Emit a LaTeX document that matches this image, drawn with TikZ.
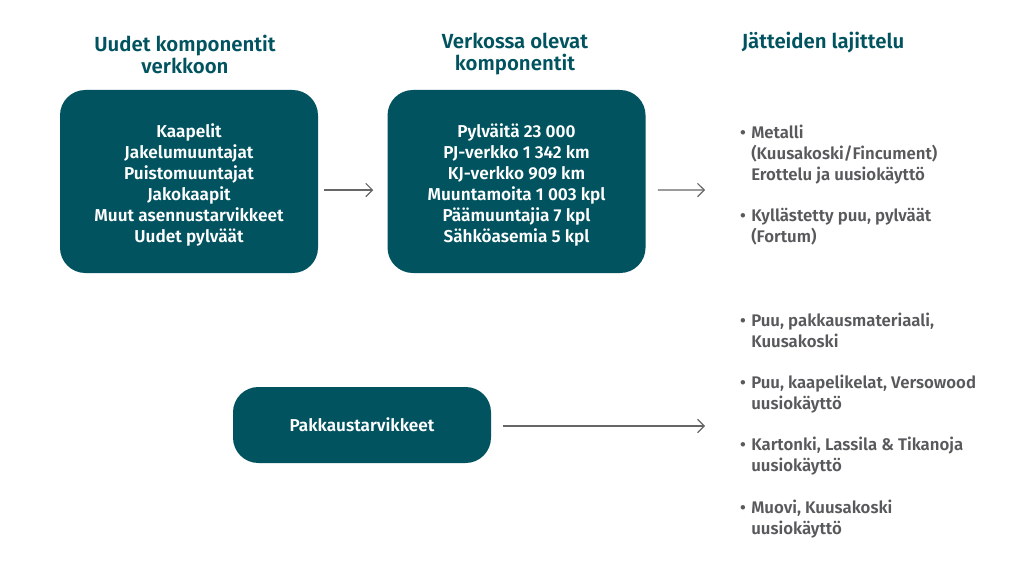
\documentclass[tikz,border=0pt]{standalone}
\usepackage{fontspec}
\setmainfont{Fira Sans SemiBold}
\usetikzlibrary{arrows.meta,positioning}
\definecolor{colorBox}{HTML}{00535F}
\definecolor{colorHead}{HTML}{00535F}
\definecolor{colorText}{HTML}{58595B}
\definecolor{colorArrow}{HTML}{666666}

\begin{document}
\begin{tikzpicture}[x=0.75pt,y=-0.75pt,node distance=51.75pt,>={Straight Barb[length=5pt,width=10pt]},every node/.append style={align=center},box/.style={fill=colorBox, text=white, rounded corners=19pt, minimum width=193.5pt, inner sep=0pt, font=\fontsize{12.9}{15.75}\selectfont},head/.style={text=colorHead, inner sep=0pt, font=\fontsize{15.3}{16.5}\selectfont},item/.style={text=colorText, align=left, anchor=north west, inner sep=0pt, font=\fontsize{12.6}{15.75}\selectfont},arr/.style={->, draw=colorArrow, line width=0.9pt},]
    \useasboundingbox (0,0) rectangle (1022,585);
    \node [box, minimum height=137.25pt] (comp) at (189,181.5) {\rule{0pt}{15.5pt}Kaapelit\\Jakelumuuntajat\\Puistomuuntajat\\Jakokaapit\\Muut asennustarvikkeet\\Uudet pylväät};
    \node [box, minimum height=137.25pt, right=of comp] (net) {\rule{0pt}{15.5pt}Pylväitä 23 000\\PJ-verkko 1 342 km\\KJ-verkko 909 km\\Muuntamoita 1 003 kpl\\Päämuuntajia 7 kpl\\Sähköasemia 5 kpl};
    \node [box, minimum height=57pt] (pack) at (362,425) {Pakkaustarvikkeet};
    \node [head] (compHead) at (185,54) {Uudet komponentit\\verkkoon};
    \node [head] (netHead) at (515,54) {Verkossa olevat\\komponentit};
    \node [head] (sortHead) at (823,43) {Jätteiden lajittelu};
    % lajittelu
    \node [item] (metal) at (751,123.5) {\strut\llap{\textbullet\hspace{4pt}}Metalli\\(Kuusakoski/Fincument)\\Erottelu ja uusiokäyttö};
    \node [item] (pole) at (751,206.5) {\strut\llap{\textbullet\hspace{4pt}}Kyllästetty puu, pylväät\\(Fortum)};
    \node [item] (wood) at (751,312) {\strut\llap{\textbullet\hspace{4pt}}Puu, pakkausmateriaali,\\Kuusakoski};
    \node [item] (reel) at (751,373.5) {\strut\llap{\textbullet\hspace{4pt}}Puu, kaapelikelat, Versowood\\uusiokäyttö};
    \node [item] (card) at (751,435.5) {\strut\llap{\textbullet\hspace{4pt}}Kartonki, Lassila \& Tikanoja\\uusiokäyttö};
    \node [item] (plast) at (751,498.5) {\strut\llap{\textbullet\hspace{4pt}}Muovi, Kuusakoski\\uusiokäyttö};
    \coordinate (metalIn) at (705,190);
    \coordinate (packIn) at (705,426);
    \draw[arr] ([xshift=4.5pt,yshift=-6.4pt]comp.east) -- ([xshift=-10.5pt,yshift=-6.4pt]net.west);
    \draw[arr] ([xshift=9pt,yshift=-6.4pt]net.east) -- (metalIn);
    \draw[arr] ([xshift=9pt,yshift=-0.75pt]pack.east) -- (packIn);
\end{tikzpicture}
\end{document}
